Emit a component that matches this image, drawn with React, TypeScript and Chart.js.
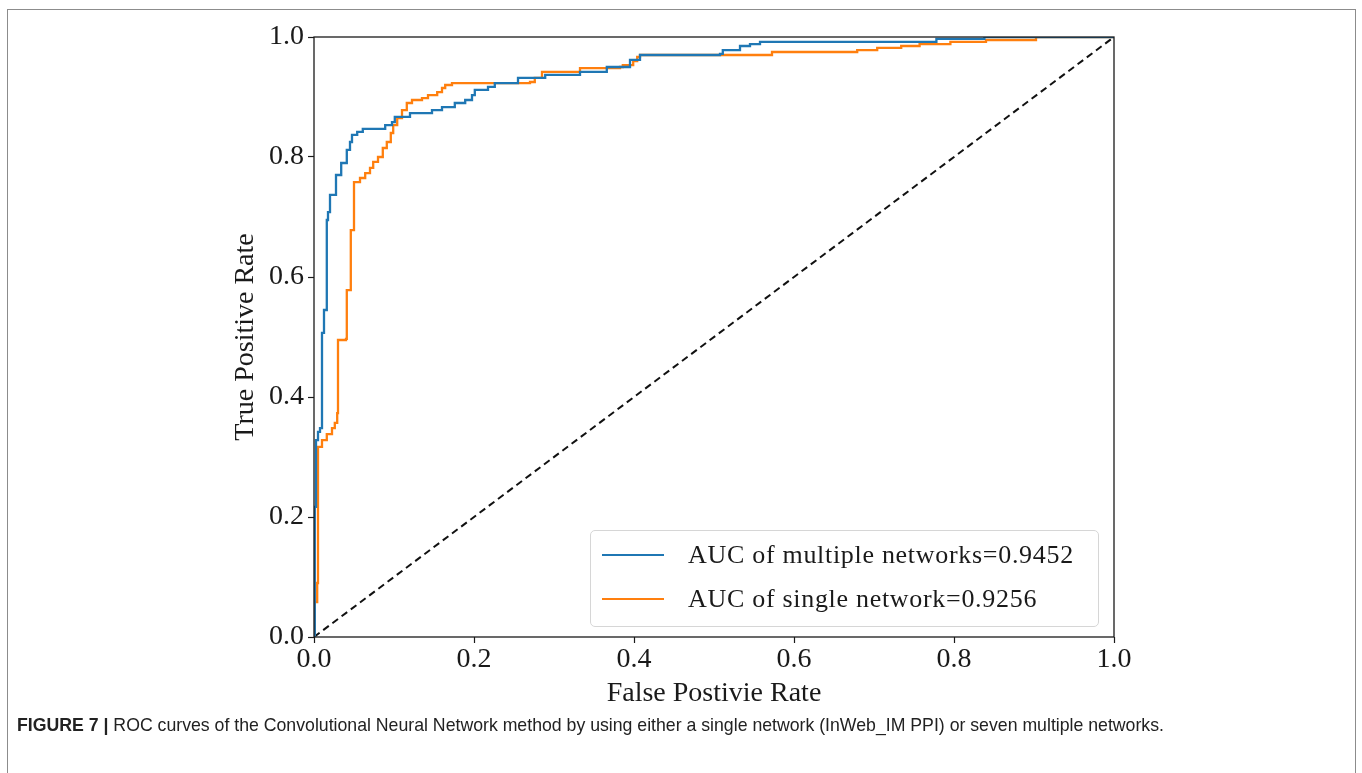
import React, { useEffect, useRef } from "react";
import { Chart, registerables } from "chart.js";

Chart.register(...registerables);

// ROC curve of the multiple-network model (vertices of the staircase)
const multiFpr = [0, 0.001, 0.0025, 0.005, 0.0075, 0.01, 0.01, 0.0125, 0.0125, 0.016, 0.016, 0.0175, 0.02, 0.0275, 0.0275, 0.034, 0.041, 0.045, 0.0475, 0.054, 0.061, 0.0825, 0.089, 0.0975, 0.101, 0.116, 0.12, 0.135, 0.1475, 0.16, 0.176, 0.189, 0.1975, 0.201, 0.2175, 0.226, 0.255, 0.27, 0.289, 0.3325, 0.366, 0.395, 0.4075, 0.5075, 0.511, 0.5325, 0.545, 0.5575, 0.775, 0.778, 0.835, 0.838, 1.0];
const multiTpr = [0, 0.217, 0.328, 0.342, 0.348, 0.35, 0.507, 0.507, 0.545, 0.545, 0.695, 0.708, 0.737, 0.737, 0.77, 0.79, 0.812, 0.825, 0.837, 0.842, 0.847, 0.847, 0.853, 0.858, 0.867, 0.867, 0.873, 0.873, 0.878, 0.883, 0.89, 0.895, 0.903, 0.912, 0.917, 0.923, 0.932, 0.932, 0.937, 0.942, 0.95, 0.962, 0.97, 0.972, 0.978, 0.985, 0.988, 0.992, 0.992, 0.997, 0.997, 1.0, 1.0];

// ROC curve of the single-network model (vertices of the staircase)
const singleFpr = [0, 0.001, 0.001, 0.004, 0.004, 0.005, 0.005, 0.01, 0.016, 0.0225, 0.026, 0.029, 0.03, 0.03, 0.04, 0.041, 0.041, 0.045, 0.046, 0.05, 0.05, 0.0575, 0.064, 0.07, 0.074, 0.08, 0.086, 0.091, 0.096, 0.099, 0.104, 0.11, 0.116, 0.1225, 0.135, 0.1425, 0.154, 0.16, 0.164, 0.1725, 0.27, 0.276, 0.285, 0.3325, 0.3825, 0.386, 0.399, 0.404, 0.4075, 0.5675, 0.5725, 0.675, 0.679, 0.701, 0.704, 0.731, 0.734, 0.754, 0.757, 0.7925, 0.7955, 0.836, 0.84, 0.9025, 1.0];
const singleTpr = [0, 0.017, 0.058, 0.058, 0.09, 0.09, 0.317, 0.328, 0.338, 0.348, 0.357, 0.373, 0.4, 0.495, 0.497, 0.498, 0.578, 0.578, 0.678, 0.745, 0.758, 0.765, 0.773, 0.782, 0.792, 0.8, 0.815, 0.825, 0.84, 0.853, 0.865, 0.878, 0.89, 0.895, 0.898, 0.903, 0.908, 0.915, 0.92, 0.923, 0.925, 0.932, 0.942, 0.948, 0.95, 0.953, 0.96, 0.967, 0.97, 0.97, 0.975, 0.975, 0.978, 0.978, 0.982, 0.982, 0.985, 0.985, 0.988, 0.988, 0.992, 0.992, 0.995, 1.0, 1.0];

// chance diagonal
const diagFpr = [0, 1];
const diagTpr = [0, 1];

const tickValues = [0, 0.2, 0.4, 0.6, 0.8, 1.0];

const legendLabels = ["AUC of multiple networks=0.9452", "AUC of single network=0.9256"];
const xTitle = "False Postivie Rate";
const yTitle = "True Positive Rate";

const BLUE = "#1f77b4";
const ORANGE = "#ff7f0e";
const SERIF = "'Liberation Serif', 'DejaVu Serif', serif";

const toPoints = (xs: number[], ys: number[]) => xs.map((x, i) => ({ x, y: ys[i] }));

const framePlugin = {
  id: "frame",
  afterDatasetsDraw(chart: any) {
    const { ctx, chartArea } = chart;
    ctx.save();
    ctx.strokeStyle = "#1a1a1a";
    ctx.lineWidth = 1.3;
    ctx.strokeRect(chartArea.left, chartArea.top, chartArea.right - chartArea.left, chartArea.bottom - chartArea.top);
    ctx.restore();
  },
};

export default function App() {
  const ref = useRef<HTMLCanvasElement | null>(null);

  useEffect(() => {
    if (!ref.current) return;
    const tickFont = { family: SERIF, size: 28 };
    const titleFont = { family: SERIF, size: 28 };
    const chart = new Chart(ref.current, {
      type: "line",
      data: {
        datasets: [
          {
            label: legendLabels[0],
            data: toPoints(multiFpr, multiTpr),
            borderColor: BLUE,
            borderWidth: 2.3,
            pointRadius: 0,
            stepped: "before",
            fill: false,
          },
          {
            label: legendLabels[1],
            data: toPoints(singleFpr, singleTpr),
            borderColor: ORANGE,
            borderWidth: 2.3,
            pointRadius: 0,
            stepped: "before",
            fill: false,
          },
          {
            label: "chance",
            data: toPoints(diagFpr, diagTpr),
            borderColor: "#111",
            borderWidth: 2,
            borderDash: [7, 4.5],
            pointRadius: 0,
            fill: false,
          },
        ],
      },
      options: {
        responsive: false,
        animation: false,
        layout: { padding: { left: 214, top: 37, right: 248, bottom: 61 } },
        plugins: { legend: { display: false }, tooltip: { enabled: false } },
        scales: {
          x: {
            type: "linear",
            min: 0,
            max: 1,
            afterFit: (s: any) => { s.height = 75; },
            afterBuildTicks: (s: any) => { s.ticks = tickValues.map((v) => ({ value: v })); },
            grid: { drawOnChartArea: false, drawTicks: true, tickLength: 6, tickColor: "#1a1a1a", tickWidth: 1.2 },
            border: { display: false },
            ticks: { font: tickFont, color: "#1a1a1a", padding: 0, maxRotation: 0, callback: (v: any) => Number(v).toFixed(1) },
            title: { display: true, text: xTitle, font: titleFont, color: "#1a1a1a", padding: { top: 0, bottom: 2 } },
          },
          y: {
            type: "linear",
            min: 0,
            max: 1,
            afterFit: (s: any) => { s.width = 100; },
            afterBuildTicks: (s: any) => { s.ticks = tickValues.map((v) => ({ value: v })); },
            grid: { drawOnChartArea: false, drawTicks: true, tickLength: 6, tickColor: "#1a1a1a", tickWidth: 1.2 },
            border: { display: false },
            ticks: { font: tickFont, color: "#1a1a1a", padding: 4, callback: (v: any) => Number(v).toFixed(1) },
            title: { display: true, text: yTitle, font: titleFont, color: "#1a1a1a", padding: { top: 15, bottom: 0 } },
          },
        },
      },
      plugins: [framePlugin],
    });
    return () => chart.destroy();
  }, []);

  return (
    <div style={{ position: "fixed", left: 0, top: 0, width: 1362, height: 773, overflow: "hidden", background: "#fff" }}>
      <canvas ref={ref} width={1362} height={773} style={{ position: "absolute", left: 0, top: 0, width: 1362, height: 773 }} />
      <div style={{ position: "absolute", left: 7, top: 9, width: 1347, height: 820, border: "1.5px solid #8c8c8c", pointerEvents: "none" }} />
      <div
        style={{
          position: "absolute",
          left: 590,
          top: 530,
          width: 507,
          height: 95,
          border: "1.3px solid #d6d6d6",
          borderRadius: 5,
          background: "rgba(255,255,255,0.85)",
          fontFamily: SERIF,
          fontSize: 26,
          letterSpacing: 0.7,
          color: "#1a1a1a",
        }}
      >
        {legendLabels.map((t, i) => (
          <div key={t} style={{ position: "absolute", left: 0, top: i === 0 ? 8 : 52, height: 32, display: "flex", alignItems: "center", whiteSpace: "nowrap" }}>
            <span style={{ display: "inline-block", marginLeft: 11, width: 62, height: 2.5, background: i === 0 ? BLUE : ORANGE }} />
            <span style={{ marginLeft: 24 }}>{t}</span>
          </div>
        ))}
      </div>
      <div
        style={{
          position: "absolute",
          left: 17,
          top: 715,
          fontFamily: "'Liberation Sans', Arial, sans-serif",
          fontSize: 17.7,
          color: "#222",
          whiteSpace: "nowrap",
        }}
      >
        <b>FIGURE 7 |</b> ROC curves of the Convolutional Neural Network method by using either a single network (InWeb_IM PPI) or seven multiple networks.
      </div>
    </div>
  );
}
